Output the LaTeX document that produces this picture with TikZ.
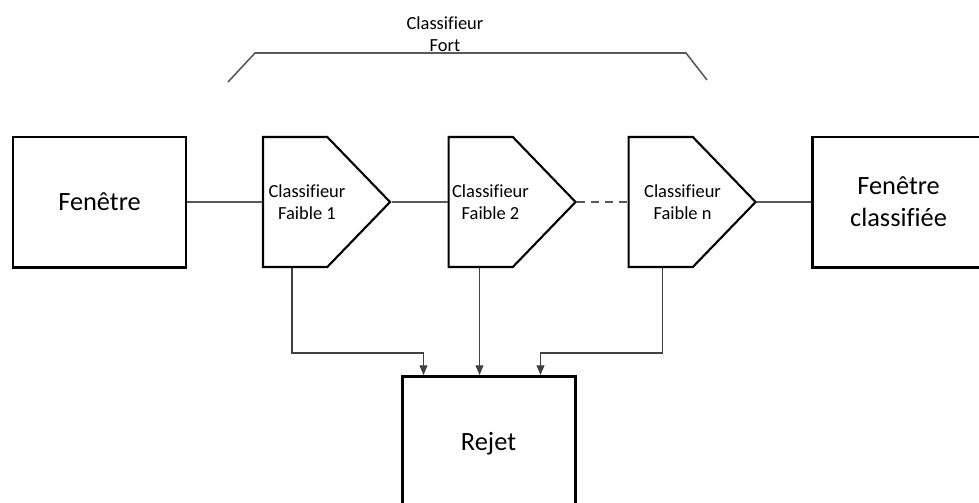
\documentclass[tikz,border=0pt]{standalone}
\usepackage{fontspec}
\setmainfont{Carlito}[Ligatures=CommonOff]
\usetikzlibrary{shapes.symbols, arrows.meta, positioning}

\begin{document}
\begin{tikzpicture}[
    node distance=1.1cm,
    box/.style={rectangle, draw=black, line width=1.7pt, minimum width=3.46cm, minimum height=2.6cm, align=center, font=\fontsize{15}{18}\selectfont},
    clf/.style={signal, signal to=east, signal pointer angle=92, draw=black, line width=1.2pt, minimum width=2.54cm, minimum height=2.6cm, inner sep=0pt},
    clftext/.style={anchor=center, align=center, font=\fontsize{10.5}{12.5}\selectfont},
    link/.style={line width=1.1pt, color=black!65},
    drop/.style={-{Triangle[length=5.5pt, width=4.5pt]}, line width=0.6pt, color=black!75}
]
\useasboundingbox (0,0) rectangle (19.58,-10.04);

\node[box] (fen) at (1.99,-4.04) {Fenêtre};
\node[clf, right=1.49cm of fen, label={[clftext, xshift=0.9cm]west:Classifieur\\Faible 1}] (f1) {};
\node[clf, right=1.12cm of f1, label={[clftext, xshift=0.86cm]west:Classifieur\\Faible 2}] (f2) {};
\node[clf, right=1.01cm of f2, label={[clftext, xshift=1.1cm]west:Classifieur\\Faible n}] (fn) {};
\node[box, right=1.07cm of fn] (cls) {Fenêtre\\classifiée};
\node[box, anchor=north, minimum height=2.7cm] (rej) at (9.77,-7.5) {Rejet};

% strong classifier bracket
\node[clftext] (fort) at (8.9,-0.68) {Classifieur\\Fort};
\draw[link, line width=0.9pt] (4.56,-1.64) -- (5.1,-1.06) -- (13.72,-1.06) -- (14.14,-1.6);

% cascade
\draw[link] (fen) -- (f1);
\draw[link] (f1.east) -- (f2.west);
\draw[link, dash pattern=on 4.5pt off 3.5pt] (f2.east) -- (fn.west);
\draw[link] (fn.east) -- (cls);

% rejections
\draw[drop] ([xshift=0.6cm]f1.west |- f1.south) |- ([xshift=-1.3cm, yshift=0.44cm]rej.north) -- ([xshift=-1.3cm]rej.north);
\draw[drop] ([xshift=0.64cm]f2.west |- f2.south) -- ([xshift=0.64cm]f2.west |- rej.north);
\draw[drop] ([xshift=0.7cm]fn.west |- fn.south) |- ([xshift=1.04cm, yshift=0.44cm]rej.north) -- ([xshift=1.04cm]rej.north);
\end{tikzpicture}
\end{document}
